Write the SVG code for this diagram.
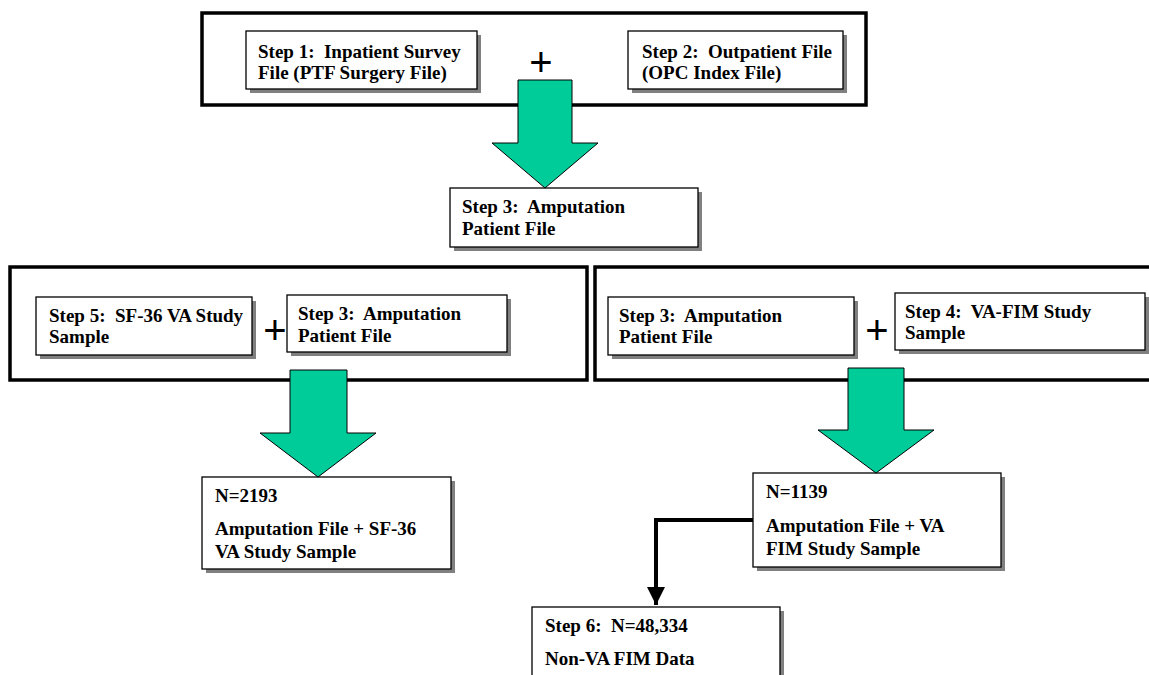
<svg xmlns="http://www.w3.org/2000/svg" width="1149" height="675" viewBox="0 0 1149 675">
<style>
.outer{fill:none;stroke:#000;stroke-width:3.5}
.box{fill:#fff;stroke:#000;stroke-width:1.3}
.shadow{fill:#808080}
.t{font-family:"Liberation Serif","Times New Roman",serif;font-weight:bold;font-size:19px;fill:#000;white-space:pre}
.plus{font-family:"Liberation Sans",Arial,sans-serif;font-size:40px;fill:#000;text-anchor:middle}
.garrow{fill:#00CC99;stroke:#000;stroke-width:1}
.conn{fill:none;stroke:#000;stroke-width:4}
</style>
<defs>
<marker id="ah" viewBox="0 0 10 10" refX="10" refY="5" markerWidth="4.5" markerHeight="4.5" orient="auto" markerUnits="strokeWidth">
<path d="M0,0 L10,5 L0,10 Z" fill="#000"/>
</marker>
</defs>
<rect width="1149" height="675" fill="#fff"/>

<g id="group-top">
<rect class="outer" x="202" y="13" width="664" height="92"/>
<text class="plus" x="541" y="76">+</text>
</g>
<g id="step1">
<rect class="shadow" x="250" y="35" width="231" height="58"/>
<rect class="box" x="246" y="31" width="231" height="58"/>
<text class="t" x="258" y="58">Step 1:  Inpatient Survey</text>
<text class="t" x="258" y="79">File (PTF Surgery File)</text>
</g>
<g id="step2">
<rect class="shadow" x="632" y="35" width="215" height="58"/>
<rect class="box" x="628" y="31" width="215" height="58"/>
<text class="t" x="642" y="58">Step 2:  Outpatient File</text>
<text class="t" x="642" y="79">(OPC Index File)</text>
</g>
<g id="step3-top">
<rect class="shadow" x="454" y="192" width="248" height="59"/>
<rect class="box" x="450" y="188" width="248" height="59"/>
<text class="t" x="462" y="213">Step 3:  Amputation</text>
<text class="t" x="462" y="235">Patient File</text>
</g>

<g id="group-left">
<rect class="outer" x="10" y="267" width="577" height="113"/>
<text class="plus" x="275" y="344">+</text>
</g>
<g id="step5">
<rect class="shadow" x="40" y="301" width="216" height="58"/>
<rect class="box" x="36" y="297" width="216" height="58"/>
<text class="t" x="49" y="322">Step 5:  SF-36 VA Study</text>
<text class="t" x="49" y="343">Sample</text>
</g>
<g id="step3-left">
<rect class="shadow" x="291" y="299" width="220" height="57"/>
<rect class="box" x="287" y="295" width="220" height="57"/>
<text class="t" x="298" y="320">Step 3:  Amputation</text>
<text class="t" x="298" y="342">Patient File</text>
</g>
<g id="n2193">
<rect class="shadow" x="206" y="481" width="249" height="92"/>
<rect class="box" x="202" y="477" width="249" height="92"/>
<text class="t" x="215" y="502">N=2193</text>
<text class="t" x="215" y="535">Amputation File + SF-36</text>
<text class="t" x="215" y="558">VA Study Sample</text>
</g>

<g id="group-right">
<rect class="outer" x="595" y="267" width="570" height="113"/>
<text class="plus" x="877" y="344">+</text>
</g>
<g id="step3-right">
<rect class="shadow" x="612" y="301" width="246" height="58"/>
<rect class="box" x="608" y="297" width="246" height="58"/>
<text class="t" x="619" y="322">Step 3:  Amputation</text>
<text class="t" x="619" y="343">Patient File</text>
</g>
<g id="step4">
<rect class="shadow" x="899" y="297" width="250" height="57"/>
<rect class="box" x="895" y="293" width="250" height="57"/>
<text class="t" x="905" y="318">Step 4:  VA-FIM Study</text>
<text class="t" x="905" y="339">Sample</text>
</g>
<g id="n1139">
<rect class="shadow" x="757" y="477" width="248" height="94"/>
<rect class="box" x="753" y="473" width="248" height="94"/>
<text class="t" x="766" y="498">N=1139</text>
<text class="t" x="766" y="532">Amputation File + VA</text>
<text class="t" x="766" y="555">FIM Study Sample</text>
</g>
<g id="step6">
<rect class="shadow" x="536" y="611" width="248" height="80"/>
<rect class="box" x="532" y="607" width="248" height="80"/>
<text class="t" x="545" y="632">Step 6:  N=48,334</text>
<text class="t" x="545" y="665">Non-VA FIM Data</text>
</g>

<g id="connectors">
<path class="garrow" d="M518,80 H572 V143 H598 L545,188 L492,143 H518 Z"/>
<path class="garrow" d="M290,370 H347 V433 H376 L318,477 L260,433 H290 Z"/>
<path class="garrow" d="M848,368 H904 V430 H934 L876,473 L818,430 H848 Z"/>
<path class="conn" d="M753,520 H656 V605" marker-end="url(#ah)"/>
</g>
</svg>
